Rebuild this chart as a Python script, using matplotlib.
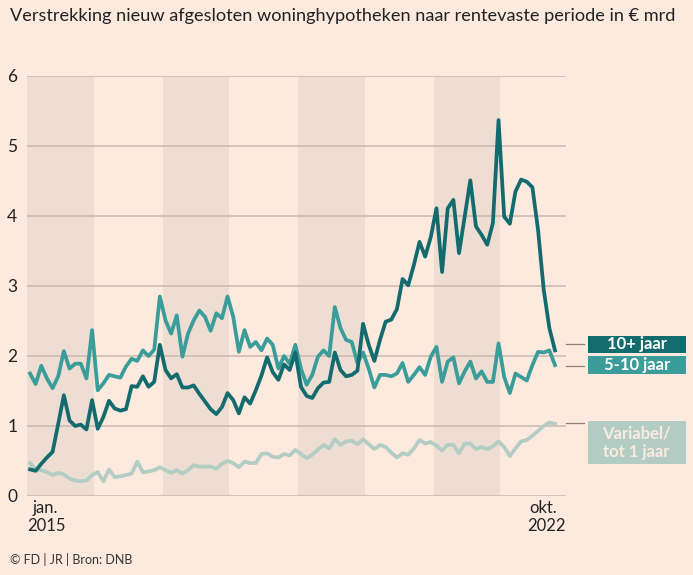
import numpy as np
import matplotlib
matplotlib.use('Agg')
import matplotlib.pyplot as plt
from matplotlib.patches import Rectangle

# monthly values, jan. 2015 - okt. 2022 (in € mrd)
months = np.arange(94)
tien_plus = [0.38, 0.36, 0.46, 0.55, 0.63, 1.03, 1.44, 1.08, 1.00, 1.02, 0.95, 1.37,
             0.96, 1.13, 1.36, 1.25, 1.22, 1.24, 1.57, 1.56, 1.71, 1.56, 1.63, 2.16,
             1.80, 1.68, 1.74, 1.55, 1.55, 1.58, 1.46, 1.35, 1.24, 1.17, 1.27, 1.47,
             1.37, 1.18, 1.41, 1.32, 1.51, 1.72, 1.98, 1.77, 1.66, 1.88, 1.80, 2.05,
             1.56, 1.43, 1.40, 1.54, 1.62, 1.63, 2.05, 1.80, 1.71, 1.73, 1.79, 2.46,
             2.16, 1.93, 2.23, 2.49, 2.52, 2.67, 3.10, 3.01, 3.30, 3.63, 3.42, 3.70,
             4.11, 3.20, 4.11, 4.23, 3.47, 3.99, 4.51, 3.85, 3.73, 3.59, 3.90, 5.37,
             3.99, 3.89, 4.35, 4.52, 4.49, 4.41, 3.80, 2.95, 2.40, 2.08]
vijf_tien = [1.75, 1.60, 1.86, 1.68, 1.54, 1.71, 2.07, 1.82, 1.89, 1.89, 1.68, 2.37,
             1.51, 1.61, 1.73, 1.71, 1.69, 1.85, 1.96, 1.93, 2.08, 2.00, 2.09, 2.85,
             2.51, 2.32, 2.58, 1.99, 2.32, 2.51, 2.65, 2.56, 2.36, 2.61, 2.54, 2.85,
             2.56, 2.06, 2.37, 2.13, 2.20, 2.08, 2.25, 2.16, 1.82, 2.00, 1.89, 2.16,
             1.82, 1.59, 1.73, 1.99, 2.08, 2.00, 2.70, 2.40, 2.23, 2.20, 1.90, 2.05,
             1.82, 1.55, 1.73, 1.73, 1.71, 1.75, 1.90, 1.63, 1.73, 1.84, 1.73, 1.99,
             2.13, 1.63, 1.92, 1.98, 1.61, 1.78, 1.92, 1.68, 1.78, 1.63, 1.63, 2.18,
             1.70, 1.47, 1.75, 1.70, 1.65, 1.87, 2.06, 2.05, 2.08, 1.87]
variabel = [0.47, 0.38, 0.37, 0.34, 0.30, 0.33, 0.31, 0.25, 0.22, 0.21, 0.22, 0.30,
            0.34, 0.21, 0.38, 0.27, 0.28, 0.30, 0.32, 0.49, 0.34, 0.35, 0.37, 0.41,
            0.37, 0.33, 0.37, 0.32, 0.37, 0.44, 0.42, 0.42, 0.42, 0.39, 0.46, 0.50,
            0.47, 0.41, 0.49, 0.47, 0.47, 0.60, 0.61, 0.56, 0.55, 0.60, 0.58, 0.66,
            0.60, 0.54, 0.59, 0.66, 0.73, 0.68, 0.81, 0.73, 0.78, 0.79, 0.74, 0.81,
            0.74, 0.67, 0.73, 0.70, 0.62, 0.55, 0.61, 0.59, 0.68, 0.80, 0.75, 0.77,
            0.72, 0.65, 0.73, 0.73, 0.61, 0.75, 0.75, 0.67, 0.70, 0.67, 0.71, 0.78,
            0.70, 0.57, 0.68, 0.78, 0.80, 0.86, 0.93, 1.00, 1.05, 1.03]
shaded_years = [0, 2, 4, 6]   # 2015, 2017, 2019, 2021 (years since 2015)
yticks = [0, 1, 2, 3, 4, 5, 6]

bg = '#fdeadf'
c_dark = '#146b6e'
c_mid = '#3a9d9a'
c_light = '#b3cdc5'

plt.rcParams['font.family'] = ['Lato', 'DejaVu Sans']

W, H = 693, 575
fig = plt.figure(figsize=(W / 100, H / 100), dpi=100, facecolor=bg)
ax = fig.add_axes([27 / W, 1 - 496 / H, (566 - 27) / W, (496 - 76) / H])
ax.set_facecolor(bg)

for yr in shaded_years:
    ax.axvspan(12 * yr - 0.5, 12 * yr + 11.3, color='#eeddd2', lw=0, zorder=0)

for y in yticks:
    ax.axhline(y, color='#c9b9ae', lw=1.1, zorder=1)

ax.plot(months, variabel, color=c_light, lw=2.7, solid_joinstyle='round', zorder=3)
ax.plot(months, vijf_tien, color=c_mid, lw=2.7, solid_joinstyle='round', zorder=4)
ax.plot(months, tien_plus, color=c_dark, lw=2.7, solid_joinstyle='round', zorder=5)

ax.set_xlim(-0.53, 94.95)
ax.set_ylim(0, 6)
ax.set_yticks(yticks)
ax.set_yticklabels([str(v) for v in yticks], fontsize=12.5, color='#222222')
ax.tick_params(axis='y', length=0, pad=7)
ax.set_xticks([])
for s in ax.spines.values():
    s.set_visible(False)

def fx(px):
    return px / W

def fy(py):
    return 1 - py / H

# title and footer
fig.text(fx(10), fy(16), 'Verstrekking nieuw afgesloten woninghypotheken naar rentevaste periode in € mrd',
         fontsize=13.1, color='#222222', va='center', ha='left')
fig.text(fx(10), fy(560), '© FD | JR | Bron: DNB', fontsize=9, color='#333333', va='center', ha='left')

# x labels
fig.text(fx(33), fy(508), 'jan.', fontsize=12, color='#222222', va='center', ha='left')
fig.text(fx(27), fy(526), '2015', fontsize=12, color='#222222', va='center', ha='left')
fig.text(fx(557), fy(508), 'okt.', fontsize=12, color='#222222', va='center', ha='right')
fig.text(fx(566), fy(526), '2022', fontsize=12, color='#222222', va='center', ha='right')

# labels on the right
labels = [('10+ jaar', 335.7, 353.3, 344, c_dark, 'white'),
          ('5-10 jaar', 356, 374, 365.5, c_mid, 'white'),
          ('Variabel/\ntot 1 jaar', 420.7, 464, 422.5, c_light, '#fbeae0')]
for txt, top, bot, ly, fc, tc in labels:
    fig.patches.append(Rectangle((fx(587.7), fy(bot)), fx(685.7) - fx(587.7), fy(top) - fy(bot),
                                 transform=fig.transFigure, facecolor=fc, edgecolor='none'))
    fig.text(fx(636.7), fy((top + bot) / 2), txt, fontsize=12, fontweight='bold', color=tc,
             ha='center', va='center', linespacing=1.2)
    fig.add_artist(plt.Line2D([fx(566), fx(584)], [fy(ly), fy(ly)], transform=fig.transFigure,
                              color='#8c817b', lw=0.9))

fig.savefig('out.png', dpi=100, facecolor=bg)
